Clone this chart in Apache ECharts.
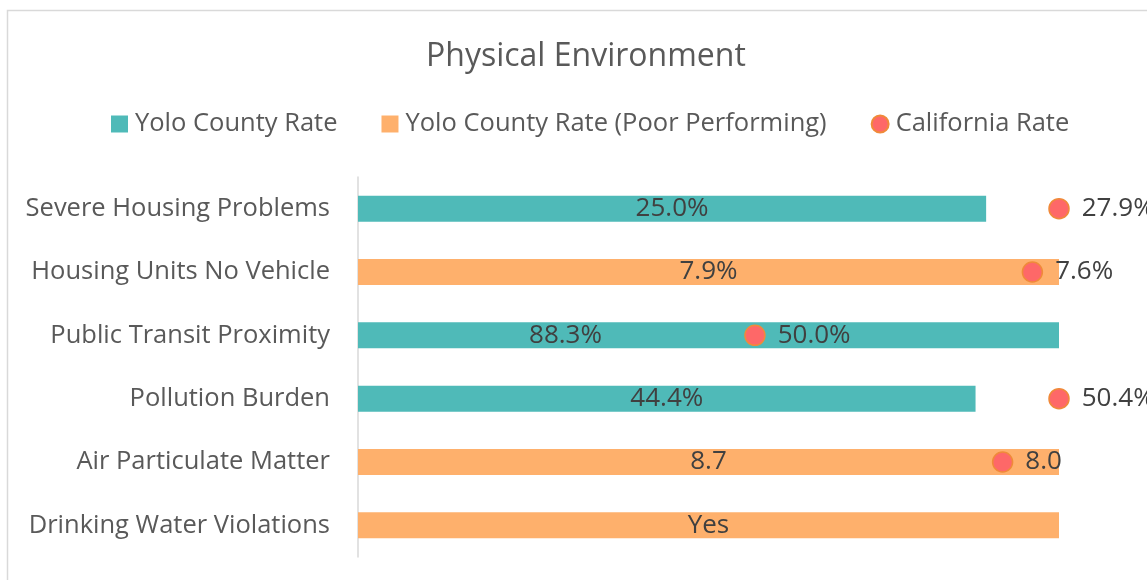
<!DOCTYPE html>
<html>
<head>
<meta charset="utf-8">
<script src="https://cdn.jsdelivr.net/npm/echarts@6/dist/echarts.min.js"></script>
<style>
  html, body { margin: 0; padding: 0; background: #fff; }
  #chart { width: 1147px; height: 580px; }
</style>
</head>
<body>
<div id="chart"></div>
<script>
var categories = ['Severe Housing Problems', 'Housing Units No Vehicle', 'Public Transit Proximity',
  'Pollution Burden', 'Air Particulate Matter', 'Drinking Water Violations'];
var countyRate = [25.0, 7.9, 88.3, 44.4, 8.7, null];
var countyText = ['25.0%', '7.9%', '88.3%', '44.4%', '8.7', 'Yes'];
var poorPerforming = [false, true, false, false, true, true];
var stateRate = [27.9, 7.6, 50.0, 50.4, 8.0, null];
var stateText = ['27.9%', '7.6%', '50.0%', '50.4%', '8.0', ''];

window.onload = function() {
  drawChart();
}

// each row is scaled against the larger of the two rates
function
scaled(a, b) {
  if (a == null) return 1;
  var m = Math.max(a, b == null ? a : b);
  return a / m;
}

function
drawChart() {
  var chart = echarts.init(document.getElementById('chart'));
  var teal = '#4fbab8', orange = '#feb06c', dot = '#fe6868';

  var goodData = [], poorData = [], dotData = [];
  for (var i = 0; i < categories.length; i++) {
    var v = scaled(countyRate[i], stateRate[i]);
    var item = {value: v, txt: countyText[i]};
    // the dot sits in the middle of this bar, so the label is moved left
    if (i == 2) item.label = {offset: [-143, 0]};
    goodData.push(poorPerforming[i] ? '-' : item);
    poorData.push(poorPerforming[i] ? item : '-');
    dotData.push(stateRate[i] == null ? '-' :
      {value: scaled(stateRate[i], countyRate[i]), txt: stateText[i]});
  }

  var barLabel = {
    show: true, position: 'inside', color: '#404040', fontSize: 26,
    fontFamily: 'Open Sans',
    formatter: function(p) { return p.data.txt; }
  };

  option = {
    animation: false,
    graphic: [{
      type: 'rect', shape: {x: 7.5, y: 10.5, width: 1160, height: 600},
      style: {fill: 'none', stroke: '#d9d9d9', lineWidth: 1.5}
    }],
    title: {
      text: 'Physical Environment', left: 421, top: 36,
      textStyle: {fontFamily: 'Open Sans', fontWeight: 'normal', fontSize: 32, color: '#595959'}
    },
    legend: {
      top: 106, left: 106, itemGap: 44, itemWidth: 17, itemHeight: 17,
      textStyle: {fontFamily: 'Open Sans', fontSize: 25.5, color: '#595959', padding: [0, 0, 0, 2]},
      data: [
        {name: 'Yolo County Rate', icon: 'rect'},
        {name: 'Yolo County Rate (Poor Performing)', icon: 'rect'},
        {name: 'California Rate', icon: 'circle'}
      ]
    },
    grid: {left: 358, right: 88, top: 177, bottom: 23},
    xAxis: {
      type: 'value', min: 0, max: 1, show: false
    },
    yAxis: {
      type: 'category', inverse: true, data: categories,
      axisLine: {lineStyle: {color: '#d9d9d9', width: 1.5}},
      axisTick: {show: false},
      axisLabel: {fontFamily: 'Open Sans', fontSize: 25.5, color: '#595959', margin: 28}
    },
    series: [
      {
        name: 'Yolo County Rate', type: 'bar', stack: 'c', barWidth: 26,
        itemStyle: {color: teal}, label: barLabel, data: goodData
      },
      {
        name: 'Yolo County Rate (Poor Performing)', type: 'bar', stack: 'c', barWidth: 26,
        itemStyle: {color: orange}, label: barLabel, data: poorData
      },
      {
        name: 'California Rate', type: 'scatter', symbolSize: 20, z: 5,
        itemStyle: {color: dot, opacity: 1, borderColor: '#f08a3a', borderWidth: 1.5},
        label: {
          show: true, position: 'right', distance: 12, color: '#404040', fontSize: 26,
          fontFamily: 'Open Sans',
          formatter: function(p) { return p.data.txt; }
        },
        data: dotData
      }
    ]
  };

  chart.setOption(option);
}
</script>
</body>
</html>
